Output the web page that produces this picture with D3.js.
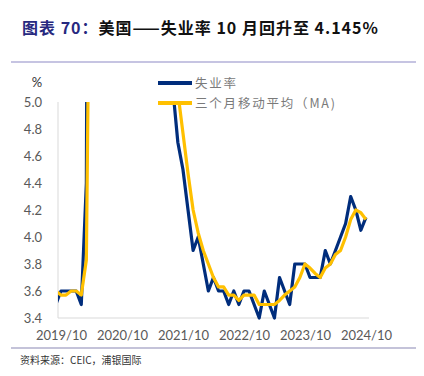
<!DOCTYPE html>
<html>
<head>
<meta charset="utf-8">
<script src="https://cdn.jsdelivr.net/npm/d3@7"></script>
<style>
  body { margin: 0; background: #fff; }
  svg { display: block; }
</style>
</head>
<body>
<script>
// monthly, 2019/09 .. 2024/10
var months = [];
for (var yr = 2019, mo = 9; yr < 2024 || (yr == 2024 && mo <= 10); mo++) {
  if (mo > 12) { mo = 1; yr++; }
  months.push(yr + "/" + (mo < 10 ? "0" + mo : mo));
}

var unemp = [3.5, 3.6, 3.6, 3.6, 3.6, 3.5, 4.4, 14.8, 13.2, 11.0, 10.2, 8.4, 7.8, 6.8, 6.7, 6.7,
  6.4, 6.2, 6.1, 6.1, 5.8, 5.9, 5.4, 5.1, 4.7, 4.5, 4.2, 3.9,
  4.0, 3.8, 3.6, 3.7, 3.6, 3.6, 3.5, 3.6, 3.5, 3.6, 3.6, 3.5,
  3.4, 3.6, 3.5, 3.4, 3.7, 3.6, 3.5, 3.8, 3.8, 3.8, 3.7, 3.7,
  3.7, 3.9, 3.8, 3.9, 4.0, 4.1, 4.3, 4.2, 4.05, 4.145];

var ma3 = [3.6, 3.57, 3.57, 3.6, 3.6, 3.57, 3.83, 7.57, 10.8, 13.0, 11.47, 9.87, 8.8, 7.67, 7.1, 6.73,
  6.6, 6.43, 6.23, 6.13, 6.0, 5.93, 5.7, 5.47, 5.07, 4.77, 4.47, 4.2,
  4.03, 3.9, 3.8, 3.7, 3.63, 3.63, 3.57, 3.57, 3.53, 3.57, 3.57, 3.57,
  3.5, 3.5, 3.5, 3.5, 3.53, 3.57, 3.6, 3.63, 3.7, 3.8, 3.77, 3.73,
  3.7, 3.77, 3.8, 3.87, 3.9, 4.0, 4.13, 4.2, 4.18, 4.13];

var xTicks = ["2019/10", "2020/10", "2021/10", "2022/10", "2023/10", "2024/10"];
var yTicks = [3.4, 3.6, 3.8, 4.0, 4.2, 4.4, 4.6, 4.8, 5.0];
var seriesNames = ["失业率", "三个月移动平均（MA)"];
var colors = ["#002d7c", "#ffc000"];

var width = 424, height = 376;
var pLeft = 58, pRight = 369, pTop = 102, pBottom = 318;

var svg = d3.select("body").append("svg")
  .attr("width", width)
  .attr("height", height);

// title
var title = svg.append("text")
  .attr("x", 22).attr("y", 34)
  .attr("font-family", "'Noto Sans CJK SC', sans-serif")
  .attr("font-size", "16px").attr("font-weight", "bold")
  .attr("letter-spacing", "1.0px");
title.append("tspan").attr("fill", "#27297f").text("图表 70：");
title.append("tspan").attr("fill", "#111").text("美国——失业率 10 月回升至 4.145%");

svg.append("line").attr("x1", 11).attr("x2", 416).attr("y1", 62).attr("y2", 62)
  .attr("stroke", "#8d89c6").attr("stroke-width", 1.2);
svg.append("line").attr("x1", 11).attr("x2", 416).attr("y1", 348).attr("y2", 348)
  .attr("stroke", "#8a87b3").attr("stroke-width", 1.2);

svg.append("text")
  .attr("x", 20).attr("y", 364)
  .attr("font-family", "'Noto Sans CJK SC', sans-serif")
  .attr("font-size", "10px").attr("fill", "#333")
  .text("资料来源：CEIC，浦银国际");

var x = d3.scaleLinear().domain([0.42, months.length - 0.4]).range([pLeft, pRight]);
var y = d3.scaleLinear().domain([3.4, 5.0]).range([pBottom, pTop]);

// axis lines
svg.append("line").attr("x1", pLeft).attr("x2", pLeft).attr("y1", pTop).attr("y2", pBottom)
  .attr("stroke", "#d9d9d9");
svg.append("line").attr("x1", pLeft).attr("x2", pRight).attr("y1", pBottom).attr("y2", pBottom)
  .attr("stroke", "#d9d9d9");

var yAxis = svg.append("g")
  .attr("transform", "translate(" + (pLeft - 16) + ",0)")
  .call(d3.axisLeft(y).tickValues(yTicks).tickSize(0).tickPadding(0).tickFormat(d3.format(".1f")));
yAxis.select(".domain").remove();
yAxis.selectAll("text")
  .attr("font-family", "Lato, sans-serif").attr("font-size", "13px").attr("fill", "#595959");

var xAxis = svg.append("g")
  .attr("transform", "translate(0," + (pBottom + 13) + ")")
  .call(d3.axisBottom(x)
    .tickValues(xTicks.map(function(t) { return months.indexOf(t); }))
    .tickSize(0).tickPadding(0)
    .tickFormat(function(d) { return months[d]; }));
xAxis.select(".domain").remove();
xAxis.selectAll("text")
  .attr("font-family", "Lato, sans-serif").attr("font-size", "13px").attr("fill", "#595959");

svg.append("text").attr("x", 37).attr("y", 87)
  .attr("text-anchor", "middle")
  .attr("font-family", "Lato, sans-serif").attr("font-size", "13px").attr("fill", "#333")
  .text("%");

svg.append("clipPath").attr("id", "plot")
  .append("rect").attr("x", pLeft).attr("y", pTop).attr("width", pRight - pLeft + 4).attr("height", pBottom - pTop + 4);

var line = d3.line()
  .x(function(d, i) { return x(i); })
  .y(function(d) { return y(d); });

[unemp, ma3].forEach(function(s, k) {
  svg.append("path")
    .attr("clip-path", "url(#plot)")
    .attr("d", line(s))
    .attr("fill", "none")
    .attr("stroke", colors[k])
    .attr("stroke-width", 3.2)
    .attr("stroke-linejoin", "round");
});

// legend
seriesNames.forEach(function(name, i) {
  var ly = 83 + i * 20;
  svg.append("line").attr("x1", 158).attr("x2", 192).attr("y1", ly).attr("y2", ly)
    .attr("stroke", colors[i]).attr("stroke-width", 4);
  svg.append("text").attr("x", 195).attr("y", ly + 4.5)
    .attr("font-family", "'Noto Sans CJK SC', sans-serif")
    .attr("font-size", "12.5px").attr("letter-spacing", "1.8px").attr("fill", "#7a7a7a")
    .text(name);
});
</script>
</body>
</html>
